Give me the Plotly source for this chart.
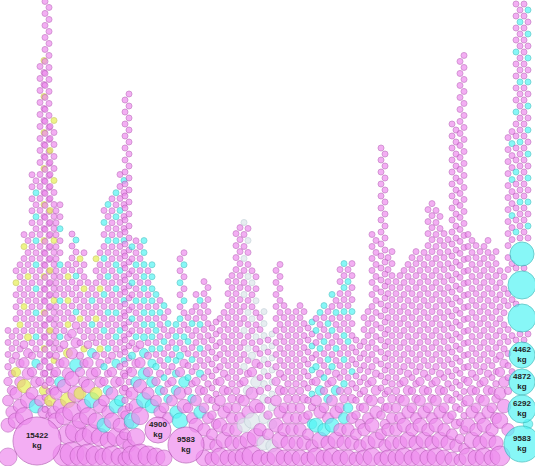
import plotly.graph_objects as go

# column centres (px), column top (image y px), base bubble radius
col_x = [10, 18, 26, 34, 42, 47, 52, 58, 66, 74, 82, 90, 98, 106, 114, 122, 127, 134, 142, 150,
         158, 166, 174, 182, 190, 198, 206, 214, 222, 230, 238, 246, 254, 262, 270, 278, 286, 294,
         302, 310, 318, 326, 334, 342, 350, 358, 366, 374, 383, 390, 398, 406, 414, 422, 430, 438,
         446, 454, 462, 470, 478, 486, 494, 502, 510, 518, 526]
col_top = [330, 260, 230, 170, 60, 0, 120, 200, 260, 230, 250, 280, 250, 200, 190, 170, 90, 240, 240, 260,
           290, 300, 320, 250, 310, 290, 280, 320, 310, 270, 225, 220, 270, 310, 330, 260, 300, 310,
           300, 320, 310, 300, 290, 260, 260, 340, 310, 230, 145, 250, 270, 260, 250, 250, 200, 210,
           230, 120, 55, 230, 240, 240, 250, 270, 130, 0, 0]
col_r = [9, 10, 11, 10, 9, 6, 9, 10, 11, 12, 10, 11, 10, 9, 10, 9, 7, 10, 11, 10,
         9, 8, 9, 10, 8, 9, 8, 7, 9, 8, 8, 9, 10, 8, 7, 9, 8, 8,
         8, 7, 9, 8, 9, 8, 8, 7, 8, 9, 7, 8, 8, 9, 8, 9, 8, 9,
         8, 7, 6, 9, 8, 9, 8, 10, 8, 7, 7]
# accent every n-th bubble (0 = none) and its colour
col_acc = [0, 7, 5, 4, 6, 0, 5, 6, 4, 6, 5, 4, 5, 3, 4, 5, 0, 3, 2, 2,
           3, 3, 2, 3, 3, 4, 0, 0, 0, 0, 0, 3, 3, 2, 2, 0, 0, 0,
           0, 4, 3, 3, 3, 4, 5, 0, 0, 0, 0, 0, 0, 0, 0, 0, 0, 0,
           0, 0, 0, 0, 0, 0, 0, 0, 6, 5, 4]
col_acc_c = ["c", "y", "y", "c", "y", "c", "y", "c", "y", "c", "y", "c", "y", "c", "c", "c", "c", "c", "c", "c",
             "c", "c", "c", "c", "c", "c", "c", "c", "c", "c", "c", "g", "g", "g", "g", "c", "c", "c",
             "c", "c", "c", "c", "c", "c", "c", "c", "c", "c", "c", "c", "c", "c", "c", "c", "c", "c",
             "c", "c", "c", "c", "c", "c", "c", "c", "c", "c", "c"]

big_x = [37, 158, 186, 522, 522, 522, 522, 522, 522, 522]
big_y = [441, 430, 445, 355, 382, 409, 444, 318, 285, 254]
big_r = [24, 13, 18, 13, 13, 14, 18, 14, 14, 12]
big_c = ["v", "v", "v", "c", "c", "c", "c", "c", "c", "c"]
big_t = ["<b>15422<br>kg</b>", "<b>4900<br>kg</b>", "<b>9583<br>kg</b>", "<b>4462<br>kg</b>",
         "<b>4872<br>kg</b>", "<b>6292<br>kg</b>", "<b>9583<br>kg</b>", "", "", ""]

fill = {"v": "#ee8cee", "c": "#55f5f5", "y": "#e6ee55", "g": "#dde6ec"}
line = {"v": "#b655b6", "c": "#2fbcbc", "y": "#c0c040", "g": "#b8c8d0"}

W, H = 535, 466
xs, ys, ds, fc, lc = [], [], [], [], []
for i, cx in enumerate(col_x):
    r = col_r[i]
    y = H - r
    k = 0
    top = col_top[i]
    while y > top:
        c = "v"
        if col_acc[i] and k % col_acc[i] == col_acc[i] - 1:
            c = col_acc_c[i]
        px_ = cx + (2 if k % 2 else -2)
        inside = any((px_ - bx) ** 2 + (y - by) ** 2 < (br + r * 0.3) ** 2
                     for bx, by, br in zip(big_x, big_y, big_r))
        if not inside:
            xs.append(px_)
            ys.append(H - y)
            ds.append(2 * r)
            fc.append(fill[c])
            lc.append(line[c])
        nr = max(3.0, r * 0.88)
        y -= (r + nr) * 1.0
        r = nr
        k += 1

fig = go.Figure()
fig.add_trace(go.Scatter(x=xs, y=ys, mode="markers",
                         marker=dict(size=ds, color=fc, line=dict(color=lc, width=0.8))))
fig.add_trace(go.Scatter(x=big_x, y=[H - v for v in big_y], mode="markers+text", text=big_t,
                         textfont=dict(size=8, color="#222222", family="Arial"),
                         marker=dict(size=[2 * r for r in big_r], color=[fill[c] for c in big_c],
                                     line=dict(color=[line[c] for c in big_c], width=1))))
fig.update_layout(width=W, height=H, margin=dict(l=0, r=0, t=0, b=0), showlegend=False,
                  plot_bgcolor="white", paper_bgcolor="white")
fig.update_xaxes(range=[0, W], visible=False)
fig.update_yaxes(range=[0, H], visible=False)
# drop the page's default body margin so the figure fills the window
fig.write_html("out.html", config={"displayModeBar": False},
               post_script="document.body.style.margin='0';document.body.style.overflow='hidden';")
